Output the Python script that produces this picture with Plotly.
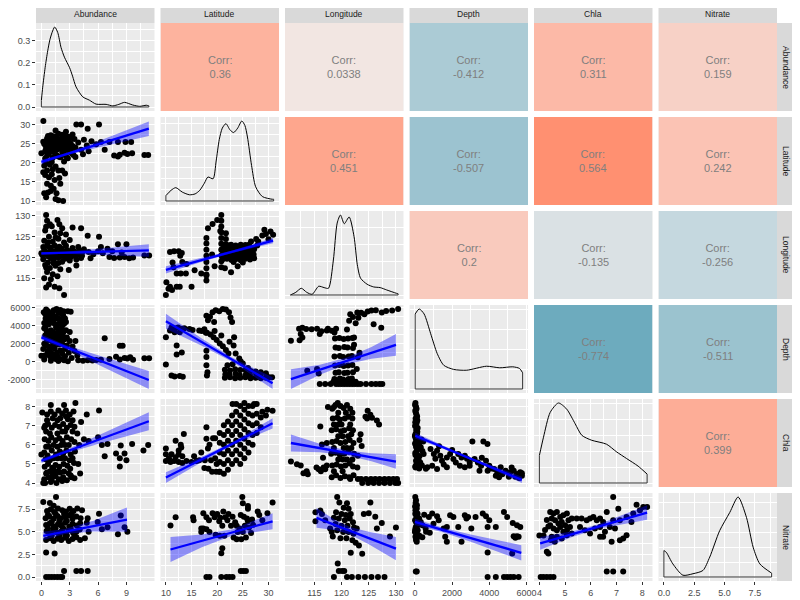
import math
import plotly.graph_objects as go
from plotly.subplots import make_subplots
from plotly.colors import sample_colorscale

variables = ["Abundance", "Latitude", "Longitude", "Depth", "Chla", "Nitrate"]

# axis breaks per variable
x_ticks = [[0, 3, 6, 9], [10, 15, 20, 25, 30], [115, 120, 125, 130],
           [0, 2000, 4000, 6000], [4, 5, 6, 7, 8], [0, 2.5, 5, 7.5]]
x_labels = [["0", "3", "6", "9"], ["10", "15", "20", "25", "30"], ["115", "120", "125", "130"],
            ["0", "2000", "4000", "6000"], ["4", "5", "6", "7", "8"], ["0.0", "2.5", "5.0", "7.5"]]
y_ticks = [[0, 0.1, 0.2, 0.3], [10, 15, 20, 25, 30], [115, 120, 125, 130],
           [-2000, 0, 2000, 4000, 6000], [4, 5, 6, 7, 8], [0, 2.5, 5, 7.5]]
y_labels = [["0.0", "0.1", "0.2", "0.3"], ["10", "15", "20", "25", "30"], ["115", "120", "125", "130"],
            ["-2000", "0", "2000", "4000", "6000"], ["4", "5", "6", "7", "8"], ["0.0", "2.5", "5.0", "7.5"]]

# upper triangle correlations, row by row
corr_values = [0.36, 0.0338, -0.412, 0.311, 0.159,
               0.451, -0.507, 0.564, 0.242,
               0.2, -0.135, -0.256,
               -0.774, -0.511,
               0.399]

# diagonal densities
abund_dens_x = [0.0, 0.14, 0.4, 0.67, 0.9, 1.13, 1.41, 1.73, 2.08, 2.44, 2.97, 3.3, 3.67, 4.38, 5.08, 5.79, 6.85, 7.56, 8.2, 8.8, 9.67, 10.4, 11.1, 11.37]
abund_dens_y = [0.03, 0.09, 0.18, 0.255, 0.305, 0.338, 0.363, 0.338, 0.27, 0.226, 0.18, 0.14, 0.091, 0.046, 0.031, 0.013, 0.012, 0.005, 0.012, 0.021, 0.009, 0.003, 0.008, 0.005]
lat_dens_x = [10.0, 11.0, 11.93, 13.2, 14.6, 15.7, 16.6, 17.5, 18.2, 19.2, 19.8, 20.4, 21.0, 21.7, 22.5, 23.2, 24.0, 24.8, 25.4, 25.9, 26.7, 27.5, 28.8, 30.7, 31.0]
lat_dens_y = [0.006, 0.012, 0.015, 0.01, 0.007, 0.008, 0.012, 0.02, 0.027, 0.025, 0.045, 0.069, 0.082, 0.087, 0.08, 0.077, 0.082, 0.09, 0.085, 0.072, 0.04, 0.016, 0.005, 0.002, 0.002]
lon_dens_x = [110.6, 111.6, 112.6, 113.6, 114.6, 115.8, 116.8, 117.6, 118.5, 119.2, 119.8, 120.5, 121.4, 122.3, 122.9, 123.5, 124.7, 125.9, 127.1, 128.3, 130.1, 130.4]
lon_dens_y = [0.0, 0.004, 0.010, 0.004, 0.001, 0.013, 0.011, 0.010, 0.052, 0.107, 0.119, 0.106, 0.116, 0.087, 0.045, 0.025, 0.016, 0.012, 0.011, 0.0075, 0.0025, 0.0018]
depth_dens_x = [16, 230, 495, 850, 1200, 1550, 2080, 2790, 3850, 4560, 5260, 5620, 5790]
depth_dens_y = [3.79e-4, 4.04e-4, 3.79e-4, 2.79e-4, 1.79e-4, 1.2e-4, 0.99e-4, 0.95e-4, 1.15e-4, 1.07e-4, 1.12e-4, 1.04e-4, 0.82e-4]
chla_dens_x = [4.0, 4.16, 4.42, 4.74, 5.06, 5.39, 5.65, 6.03, 6.61, 7.0, 7.39, 7.84, 8.19]
chla_dens_y = [0.173, 0.288, 0.444, 0.503, 0.465, 0.373, 0.300, 0.269, 0.244, 0.196, 0.154, 0.106, 0.056]
nit_dens_x = [0.0, 0.2, 0.74, 1.57, 2.4, 3.22, 3.78, 4.6, 5.43, 6.12, 6.81, 7.36, 7.91, 8.88]
nit_dens_y = [0.089, 0.083, 0.044, 0.006, 0.011, 0.022, 0.067, 0.156, 0.217, 0.269, 0.2, 0.1, 0.044, 0.013]

# lower panels: points (x, y) and lm fit (x, fit, half band)
abund_lat = [
    (0.21, 30.9), (3.7, 30.0), (4.2, 30.0), (6.1, 30.0), (4.9, 28.9), (3.3, 27.4), (1.5, 28.4), (2.6, 28.1),
    (0.4, 21.1), (0.8, 22.4), (1.2, 21.3), (1.6, 22.0), (2.0, 21.4), (2.4, 22.3), (2.8, 21.2), (3.2, 22.5),
    (0.5, 23.7), (0.9, 23.2), (1.3, 24.0), (1.7, 23.5), (2.1, 23.9), (2.5, 23.3), (2.9, 23.8), (3.3, 23.6),
    (0.3, 24.9), (0.8, 25.3), (1.1, 24.7), (1.6, 25.1), (1.9, 24.6), (2.3, 25.2), (2.7, 24.8), (3.1, 25.0),
    (0.6, 26.3), (1.0, 26.0), (1.4, 26.6), (1.8, 26.1), (2.2, 26.5), (2.6, 26.0), (3.0, 26.4), (3.5, 26.2),
    (1.0, 27.2), (2.2, 27.3), (1.8, 27.6), (0.7, 27.0),
    (0.6, 21.8), (1.0, 22.9), (1.4, 22.6), (1.8, 21.6), (2.2, 22.8), (2.6, 21.7), (3.0, 22.9), (3.4, 22.0),
    (0.5, 24.3), (0.9, 24.1), (1.3, 25.6), (1.7, 24.4), (2.1, 25.5), (2.5, 24.2), (2.9, 25.6), (3.3, 24.4),
    (0.7, 25.9), (1.2, 26.9), (1.6, 26.9), (2.0, 25.9), (2.4, 26.9), (2.8, 26.8), (3.2, 26.9), (0.4, 23.0),
    (3.6, 24.0), (3.9, 25.3), (4.2, 23.4), (4.5, 26.0), (4.8, 24.5), (5.3, 25.6), (5.0, 23.0), (3.6, 21.5),
    (0.0, 22.5), (0.2, 25.5), (5.8, 24.8), (4.4, 22.2),
    (0.3, 19.2), (0.6, 18.0), (0.9, 19.5), (1.2, 18.3), (1.5, 19.0), (1.8, 18.0), (0.4, 16.8), (0.8, 16.2),
    (1.1, 17.0), (1.4, 15.5), (0.6, 14.5), (1.0, 14.0), (1.3, 13.2), (0.3, 12.0), (0.7, 12.2), (1.0, 12.6),
    (1.6, 12.0), (0.5, 11.0), (1.5, 10.5), (1.8, 10.2), (2.3, 10.0), (2.0, 14.5), (2.2, 18.0), (2.5, 17.2),
    (1.9, 16.0), (0.2, 17.5), (1.1, 20.2), (2.4, 20.3), (0.5, 20.0),
    (6.3, 25.4), (7.2, 25.4), (8.1, 25.4), (8.9, 25.4), (9.5, 25.4), (6.7, 23.4), (7.7, 21.9), (8.3, 22.1),
    (8.8, 22.6), (9.1, 22.3), (9.6, 22.5), (8.1, 21.6), (10.9, 22.0), (11.3, 22.0),
]
abund_lat_fit = [(0.0, 20.2, 0.6), (2.5, 22.1, 0.3), (6.0, 24.8, 0.8), (11.37, 28.9, 1.9)]

abund_lon = [
    (0.2, 119.6), (0.5, 121.0), (0.9, 122.4), (1.3, 119.4), (1.7, 121.2), (2.1, 122.2), (2.5, 119.7), (2.9, 120.9),
    (3.3, 122.3), (3.7, 119.5), (4.1, 121.1), (4.5, 122.0), (0.3, 121.8), (0.7, 120.3), (1.1, 121.5), (1.5, 120.2),
    (1.9, 122.6), (2.3, 120.5), (2.7, 121.8), (3.1, 120.1), (3.5, 121.4), (3.9, 122.5), (4.3, 120.4), (0.1, 120.6),
    (0.6, 122.8), (1.0, 119.9), (1.4, 122.9), (1.8, 120.0), (2.2, 121.0), (2.6, 122.8), (3.0, 119.3), (3.4, 121.1),
    (3.8, 120.7), (4.2, 119.9), (5.0, 121.3), (5.5, 120.8), (6.0, 121.5), (5.2, 119.8), (0.0, 121.0), (6.5, 121.0),
    (0.4, 120.9), (0.8, 121.3), (1.2, 120.8), (1.6, 121.7), (2.0, 120.3), (2.4, 121.4), (2.8, 120.4), (3.2, 121.7),
    (3.6, 120.3), (4.0, 121.6), (4.4, 121.5), (0.2, 122.5), (1.0, 122.1), (1.8, 122.0), (2.6, 119.9),
    (0.5, 130.2), (0.6, 128.8), (1.7, 129.0), (1.9, 128.0), (1.1, 127.5), (0.4, 126.5), (1.4, 126.0), (2.2, 127.0),
    (0.8, 125.0), (1.8, 124.5), (2.6, 125.5), (0.3, 124.0), (1.2, 123.8), (2.4, 123.6), (3.3, 127.2), (4.2, 127.0),
    (4.9, 125.2), (6.1, 125.0), (3.0, 124.2), (0.9, 128.0), (0.7, 123.6), (1.5, 124.8), (0.5, 127.4), (2.0, 125.8),
    (0.4, 118.2), (0.9, 117.5), (1.5, 118.0), (0.6, 116.5), (1.2, 116.0), (2.0, 117.2), (0.3, 115.0), (1.0, 114.8),
    (1.7, 115.5), (0.8, 113.5), (1.4, 113.0), (1.9, 112.6), (2.4, 111.0), (3.7, 118.1), (2.9, 117.0), (2.2, 119.0),
    (0.5, 112.8), (0.7, 118.8), (1.3, 118.6), (1.8, 118.7), (0.5, 117.6),
    (7.0, 122.1), (8.1, 123.2), (9.0, 123.2), (6.3, 122.5), (7.2, 120.1), (7.7, 119.9), (8.3, 120.0), (8.8, 120.1),
    (9.3, 119.8), (9.7, 120.0), (10.9, 120.5), (11.4, 120.5), (7.5, 121.5), (8.5, 121.2),
]
abund_lon_fit = [(0.0, 121.0, 0.35), (2.5, 121.15, 0.25), (6.0, 121.37, 0.7), (11.37, 121.7, 1.5)]

abund_depth = [
    (0.3, 250), (0.7, 1150), (1.1, 2300), (1.5, 3150), (1.9, 4250), (2.3, 5150),
    (0.4, 5300), (0.8, 4150), (1.2, 3300), (1.6, 2150), (2.0, 1250), (2.4, 150),
    (0.5, 1800), (0.9, 2700), (1.3, 4700), (1.7, 600), (2.1, 3600), (2.5, 4800),
    (0.3, 3700), (0.7, 5600), (1.1, 900), (1.5, 5000), (1.9, 2600), (2.3, 3200),
    (0.6, 4500), (1.0, 3500), (1.4, 1500), (1.8, 5400), (2.2, 2000), (0.4, 2900),
    (0.35, 700), (0.75, 1700), (1.15, 2800), (1.55, 3800), (1.95, 4700), (2.35, 5600), (0.45, 4800), (0.85, 3200),
    (1.25, 1900), (1.65, 1000), (2.05, 300), (2.45, 2500), (0.6, 2300), (1.0, 5200), (1.4, 4200), (1.8, 3000),
    (2.2, 4000), (2.6, 3500), (0.3, 4300), (1.6, 5850), (2.7, 1800), (3.0, 3300), (0.9, 600),
    (0.25, 5500), (0.55, 3400), (0.65, 900), (0.95, 1400), (1.05, 4400), (1.35, 2600), (1.45, 800), (1.75, 4800),
    (1.85, 1900), (2.15, 5300), (2.25, 2800), (2.4, 4200), (0.45, 3900), (1.2, 5500), (1.9, 3400), (0.8, 5000),
    (1.5, 300), (2.0, 2200), (2.5, 1400), (0.3, 2000), (1.7, 2500), (2.1, 4500),
    (0.5, 5800), (1.3, 5700), (2.0, 5750), (2.8, 5600), (3.1, 5550), (0.9, 4700), (1.7, 3700), (2.6, 4400),
    (2.7, 2700), (3.0, 2300), (3.3, 1700), (3.5, 1200), (3.8, 700), (2.9, 1000), (3.2, 400), (3.9, 150),
    (4.4, 100), (4.9, 150), (5.4, 120), (5.8, 200), (3.6, 2300), (0.0, 670), (2.5, 600), (1.0, 100),
    (1.8, 80), (2.8, 50), (0.2, 1400), (1.2, 400), (2.2, 900),
    (6.7, 2600), (8.3, 1780), (8.6, 1780), (6.3, 220), (7.2, 300), (7.9, 550), (8.3, 250), (8.8, 400),
    (9.1, 350), (9.4, 500), (9.7, 220), (10.9, 370), (11.4, 370),
]
abund_depth_fit = [(0.0, 2700, 320), (2.5, 1660, 230), (6.0, 200, 520), (11.37, -2030, 1000)]

abund_chla = [
    (0.3, 4.2), (0.75, 4.3), (1.1, 4.15), (1.5, 4.35), (1.85, 4.2), (2.3, 4.3), (2.7, 4.15), (3.1, 4.4), (3.5, 4.25),
    (0.35, 4.85), (0.7, 5.0), (1.15, 4.8), (1.5, 4.95), (1.9, 4.85), (2.35, 5.0), (2.75, 4.9), (3.05, 4.75), (3.45, 5.05),
    (0.3, 5.6), (0.65, 5.45), (1.1, 5.7), (1.55, 5.5), (1.95, 5.65), (2.3, 5.55), (2.65, 5.7), (3.1, 5.5), (3.55, 5.65),
    (0.35, 6.3), (0.75, 6.2), (1.05, 6.4), (1.5, 6.25), (1.9, 6.35), (2.25, 6.2), (2.7, 6.4), (3.15, 6.3), (3.5, 6.15),
    (0.4, 7.0), (0.7, 7.1), (1.1, 6.9), (1.45, 7.05), (1.9, 6.95), (2.3, 7.1), (2.7, 6.9), (3.1, 7.05), (3.5, 6.95),
    (0.6, 7.6), (1.0, 7.75), (1.4, 7.6), (1.8, 7.8), (2.2, 7.65), (2.6, 7.8), (3.0, 7.6), (3.4, 7.75),
    (0.5, 4.5), (0.9, 4.6), (1.3, 5.3), (1.7, 5.9), (2.1, 6.0), (2.5, 5.3), (2.9, 6.0), (3.3, 6.7),
    (0.8, 5.9), (1.2, 7.4), (2.0, 7.4), (2.8, 7.35), (3.3, 5.3), (2.4, 4.6), (1.6, 4.0),
    (0.4, 4.0), (0.5, 5.9), (0.9, 6.6), (1.3, 6.0), (1.7, 7.3), (2.1, 5.3), (2.5, 6.0), (2.9, 4.5),
    (3.3, 7.3), (1.2, 4.4), (0.3, 6.9), (2.6, 7.5), (3.0, 5.2), (1.8, 4.6), (2.2, 6.7), (0.6, 7.3),
    (0.2, 4.0), (0.6, 4.55), (1.0, 4.05), (1.4, 4.6), (0.45, 5.25), (0.9, 5.2), (1.3, 4.7), (1.7, 5.3),
    (4.0, 6.0), (4.2, 7.2), (3.9, 5.0), (4.5, 6.3), (4.8, 7.6), (4.1, 4.5), (0.0, 5.5), (0.1, 7.7),
    (1.0, 8.1), (2.4, 8.1), (3.6, 8.2), (3.2, 4.3), (2.2, 4.1), (2.0, 4.55), (0.5, 6.7), (2.5, 6.7), (1.7, 6.6), (3.8, 6.6),
    (6.1, 7.8), (6.4, 6.0), (6.7, 5.4), (7.0, 6.05), (6.0, 6.4), (7.9, 5.55), (8.3, 5.3), (8.3, 4.87),
    (8.4, 5.97), (8.8, 5.55), (9.0, 5.2), (9.6, 6.05), (10.8, 5.7), (11.3, 6.0), (5.0, 6.2),
]
abund_chla_fit = [(0.0, 5.17, 0.12), (2.5, 5.63, 0.09), (6.0, 6.27, 0.22), (11.37, 7.24, 0.47)]

abund_nit = [
    (0.5, 4.1), (0.9, 4.3), (1.3, 4.0), (1.7, 4.25), (2.1, 4.1), (2.5, 4.35), (2.9, 4.0), (3.3, 4.2), (3.7, 4.4), (4.1, 4.1),
    (0.55, 5.1), (0.95, 4.85), (1.25, 5.2), (1.7, 4.9), (2.15, 5.1), (2.5, 4.8), (2.9, 5.2), (3.35, 4.9), (3.7, 5.0), (4.05, 5.25),
    (0.5, 5.75), (0.9, 5.95), (1.3, 5.6), (1.75, 5.85), (2.1, 5.7), (2.5, 6.0), (2.95, 5.6), (3.3, 5.9), (3.75, 5.7), (4.1, 5.95),
    (0.45, 6.5), (0.85, 6.7), (1.3, 6.45), (1.7, 6.75), (2.05, 6.5), (2.55, 6.6), (2.9, 6.8), (3.3, 6.45), (3.7, 6.7), (4.15, 6.5),
    (0.6, 7.3), (1.0, 7.5), (1.35, 7.2), (1.75, 7.6), (2.2, 7.4), (2.6, 7.25), (3.0, 7.55), (3.4, 7.3), (3.8, 7.6), (4.3, 7.4),
    (0.7, 5.4), (1.1, 6.1), (1.5, 5.4), (1.9, 6.2), (2.3, 5.4), (2.7, 6.2), (3.1, 5.4), (0.7, 6.9),
    (1.5, 7.0), (2.4, 7.0), (3.2, 7.0), (1.1, 4.6), (1.9, 4.6), (2.7, 4.6), (3.5, 4.6),
    (0.2, 8.3), (1.55, 8.86), (0.9, 8.2), (1.3, 7.9), (0.5, 2.7), (1.4, 2.6), (4.6, 4.3), (5.0, 5.0), (4.9, 6.5), (4.8, 6.0),
    (0.5, 0.0), (0.8, 0.0), (1.1, 0.0), (1.4, 0.0), (1.7, 0.0), (2.0, 0.0), (2.2, 0.0),
    (2.4, 0.66), (3.7, 0.66), (4.2, 0.66), (4.9, 0.66),
    (6.1, 7.0), (5.96, 6.1), (6.4, 5.3), (7.0, 5.5), (8.1, 4.74), (8.4, 6.8), (8.8, 5.5), (9.1, 5.0),
]
abund_nit_fit = [(0.2, 4.56, 0.45), (2.5, 5.03, 0.28), (5.5, 5.64, 0.6), (9.06, 6.36, 1.35)]

lat_lon = [
    (10.0, 111.0), (10.1, 114.1), (10.8, 113.0), (11.2, 112.2), (12.1, 113.0), (12.7, 113.0), (15.0, 113.0), (10.5, 112.5),
    (10.8, 121.4), (11.6, 121.6), (12.5, 121.6), (13.1, 121.2), (12.8, 120.5), (11.3, 118.9), (13.2, 119.0),
    (11.5, 117.7), (12.1, 116.2), (12.9, 116.2), (13.9, 116.2), (15.6, 117.0), (16.9, 116.2), (17.9, 115.7), (14.0, 118.5),
    (17.9, 114.5), (17.9, 116.0), (17.9, 117.5), (17.9, 119.0), (17.9, 120.5), (17.9, 122.0), (17.9, 123.5), (17.9, 124.8),
    (18.2, 127.2), (19.1, 128.2), (20.0, 129.2), (20.6, 126.5),
    (20.8, 130.4), (20.8, 129.0), (20.8, 127.6), (20.8, 126.2), (20.8, 124.8), (20.8, 123.4), (20.8, 122.0), (20.8, 120.6),
    (20.8, 119.2), (20.8, 117.7), (21.7, 126.0), (21.7, 124.6), (21.7, 123.3),
    (21.0, 119.6), (21.9, 119.8), (22.8, 119.5), (23.7, 119.7), (24.6, 119.4), (25.5, 119.8), (26.4, 119.6), (27.2, 119.9),
    (21.1, 120.9), (22.0, 120.7), (22.7, 121.0), (23.6, 120.8), (24.7, 120.9), (25.4, 120.6), (26.3, 121.0), (27.1, 120.8),
    (20.9, 122.0), (21.8, 122.2), (22.9, 121.9), (23.8, 122.1), (24.5, 122.0), (25.6, 122.2), (26.5, 121.9), (27.2, 122.1),
    (21.2, 123.1), (22.1, 123.0), (22.7, 123.2), (23.6, 123.0), (24.6, 123.2), (25.5, 123.1), (26.2, 123.2), (23.2, 119.0),
    (21.5, 120.2), (22.4, 120.2), (23.3, 120.3), (24.2, 120.2), (25.1, 120.3), (26.0, 120.2), (26.8, 120.3),
    (21.5, 121.4), (22.4, 121.5), (23.3, 121.4), (24.2, 121.5), (25.1, 121.4), (26.0, 121.5), (26.8, 121.4),
    (21.5, 122.6), (22.4, 122.6), (23.3, 122.5), (24.2, 122.6), (25.1, 122.6), (26.0, 122.5),
    (22.7, 116.5), (21.5, 117.5), (24.0, 118.0), (25.0, 118.9), (19.5, 118.0), (19.0, 120.8),
    (26.6, 124.0), (27.6, 124.6), (28.8, 125.4), (29.5, 125.8), (30.4, 126.4), (30.9, 125.6), (29.2, 126.8), (28.0, 124.0),
    (30.0, 124.5), (27.8, 123.0),
]
lat_lon_fit = [(10.0, 117.1, 0.9), (17.0, 119.5, 0.45), (23.0, 121.5, 0.3), (30.9, 124.2, 0.65)]

lat_depth = [
    (10.0, 2700), (10.0, -330), (10.8, 3450), (11.1, 3800), (11.7, 3700), (12.4, 3800), (13.1, 3650), (13.6, 3700),
    (11.7, 3250), (12.7, 3250), (12.1, 1780), (12.1, 780), (13.1, 1000), (11.1, -1550), (11.7, -1650), (12.7, -1600), (13.3, -1700),
    (14.6, 3630), (15.2, 3500), (16.5, 3450), (17.5, 3600), (17.8, 3200),
    (17.9, 500), (17.9, -400), (18.1, -1200), (18.0, -1550), (17.9, 1200),
    (17.9, 5100), (18.2, 4600), (19.1, 5480), (19.7, 5700), (20.4, 5600), (21.1, 5850), (21.7, 5800), (22.3, 5500),
    (22.6, 4900), (22.9, 4400), (19.4, 4400), (18.6, 5000),
    (17.0, 3400), (18.0, 3200), (18.7, 3000), (19.3, 2700), (19.9, 2400), (20.5, 2000), (21.1, 1700), (21.7, 1300),
    (22.2, 900), (19.5, 3400), (20.8, 2900), (22.4, 2200),
    (23.3, 2700), (23.2, 1800), (23.6, 900), (24.3, 340), (25.0, -220), (24.6, 0),
    (21.5, -900), (22.5, -1000), (23.5, -850), (24.5, -950), (25.5, -900), (26.5, -1050), (27.5, -1100), (28.5, -1200), (29.5, -1300),
    (21.6, -1400), (22.4, -1450), (23.6, -1350), (24.4, -1500), (25.6, -1400), (26.4, -1500), (27.6, -1450), (28.4, -1550), (29.6, -1600),
    (21.5, -1800), (22.5, -1750), (23.5, -1850), (24.5, -1800), (25.5, -1750), (26.5, -1850), (27.5, -1800), (28.5, -1850), (29.5, -1800),
    (30.1, -1730), (30.7, -1730), (22.0, -400), (23.0, -300), (26.0, -700),
]
lat_depth_fit = [(10.0, 4480, 830), (17.0, 2170, 400), (23.0, 190, 250), (30.8, -2400, 650)]

lon_depth = [
    (110.7, 2340), (112.2, 3670), (112.8, 3800), (113.5, 3650), (114.5, 3630), (112.5, 3100), (112.8, 2700), (112.3, 2400),
    (113.7, -990), (115.5, -800), (115.8, -1290),
    (115.5, 3670), (116.3, 3400), (117.3, 3500), (118.2, 3450), (118.7, 3270), (116.0, 3100), (117.5, 3670), (119.0, 3670), (121.0, 3600),
    (118.8, 2600), (119.6, 2650), (120.4, 2550), (121.2, 2600), (122.0, 2650),
    (118.9, 1600), (119.5, 1550), (120.5, 1650), (121.1, 1600), (122.1, 1550),
    (118.7, 600), (119.7, 650), (120.3, 550), (121.3, 600), (121.9, 650),
    (118.8, -400), (119.6, -350), (120.4, -450), (121.2, -400), (122.0, -350),
    (118.9, -1200), (119.5, -1150), (120.5, -1250), (121.1, -1200), (122.1, -1150),
    (118.7, -1900), (119.7, -1850), (120.3, -1950), (121.3, -1900), (121.9, -1850),
    (116.0, -2450), (117.0, -2450), (118.0, -2450), (119.0, -2450), (119.5, -2450), (120.0, -2450), (120.5, -2450),
    (121.0, -2450), (121.5, -2450), (122.0, -2450), (122.5, -2450), (123.0, -2450), (123.5, -2450), (124.5, -2450),
    (125.5, -2450), (126.3, -2450), (127.0, -2450), (127.5, -2450),
    (118.5, -2200), (119.3, -2200), (120.1, -2200), (120.9, -2200), (121.7, -2200), (122.6, -2200),
    (122.3, 2700), (122.3, 1900), (123.3, 1000), (123.0, 500), (122.8, -800),
    (121.4, 4560), (121.6, 5300), (122.1, 5000), (122.9, 5500), (123.6, 5450), (124.2, 5300), (124.8, 5600),
    (125.5, 5700), (126.3, 5750), (127.4, 5500), (128.2, 5650), (129.3, 5700), (130.4, 5880), (125.9, 4190),
    (127.3, 3800), (123.1, 4900), (122.6, 4300),
]
lon_depth_fit = [(110.7, -1920, 1100), (116.0, -880, 550), (121.0, 110, 380), (125.5, 1000, 650), (130.0, 1890, 1200)]

lat_chla = [
    (10.0, 5.5), (10.6, 5.3), (11.1, 5.5), (11.9, 5.35), (12.5, 5.5), (13.2, 5.4), (10.0, 5.15), (10.9, 5.1),
    (11.6, 5.15), (12.5, 5.1), (13.2, 5.05), (14.0, 5.15), (15.0, 5.1), (16.0, 5.15), (10.0, 5.8), (11.9, 6.2),
    (12.5, 5.7), (12.9, 6.0), (13.5, 6.55), (13.0, 5.85),
    (16.9, 5.6), (17.9, 6.3), (18.5, 6.0), (18.2, 5.8), (17.9, 6.9), (19.2, 6.33), (19.6, 6.33),
    (17.5, 4.8), (18.3, 4.75), (19.0, 4.6), (19.8, 4.6), (20.4, 4.6), (18.8, 5.2), (19.6, 5.3), (19.9, 5.0),
    (17.6, 5.2), (15.5, 5.4), (16.5, 5.2),
    (20.5, 4.6), (20.5, 5.1), (20.5, 5.6), (20.5, 6.1), (20.5, 6.6),
    (21.3, 4.5), (21.3, 5.0), (21.3, 5.5), (21.3, 6.0), (21.3, 6.5), (21.3, 7.0),
    (22.1, 4.7), (22.1, 5.2), (22.1, 5.7), (22.1, 6.2), (22.1, 6.7), (22.1, 7.2),
    (22.9, 5.0), (22.9, 5.5), (22.9, 6.0), (22.9, 6.5), (22.9, 7.0), (22.9, 7.5),
    (23.7, 5.2), (23.7, 5.7), (23.7, 6.2), (23.7, 6.7), (23.7, 7.2), (23.7, 7.7), (23.7, 8.1),
    (24.5, 5.0), (24.5, 5.5), (24.5, 6.0), (24.5, 6.5), (24.5, 7.0), (24.5, 7.5), (24.5, 8.0),
    (25.3, 5.3), (25.3, 5.8), (25.3, 6.3), (25.3, 6.8), (25.3, 7.3), (25.3, 7.8), (25.3, 8.15),
    (26.1, 5.6), (26.1, 6.1), (26.1, 6.6), (26.1, 7.1), (26.1, 7.6), (26.1, 8.0),
    (26.9, 6.0), (26.9, 6.5), (26.9, 7.0), (26.9, 7.5), (26.9, 8.0),
    (27.7, 6.6), (27.7, 7.1), (27.7, 7.6), (27.7, 8.1), (28.5, 6.9), (28.5, 7.4),
    (28.8, 7.7), (29.8, 7.8), (30.8, 7.75), (29.5, 7.5), (23.0, 8.1), (27.2, 8.1),
]
lat_chla_fit = [(10.0, 4.3, 0.28), (17.0, 5.24, 0.14), (23.0, 6.05, 0.09), (30.8, 7.1, 0.26)]

lon_chla = [
    (110.7, 5.2), (111.8, 5.06), (112.5, 5.0), (113.0, 4.6), (113.6, 4.7), (113.8, 4.55), (115.4, 4.9), (115.8, 4.8),
    (116.2, 4.7), (116.7, 4.9), (117.0, 4.8), (117.3, 5.0), (116.4, 6.07), (117.3, 6.15), (116.1, 7.0), (116.6, 5.4),
    (117.5, 8.0), (118.3, 7.9), (118.9, 8.1), (119.3, 8.2),
    (118.2, 4.4), (119.0, 4.5), (119.8, 4.35), (120.6, 4.45), (121.4, 4.4), (122.2, 4.5),
    (118.3, 5.0), (119.1, 5.05), (119.9, 4.95), (120.7, 5.0), (121.5, 5.1), (122.1, 4.95),
    (118.1, 5.6), (118.9, 5.65), (119.7, 5.55), (120.5, 5.6), (121.3, 5.7), (122.3, 5.6),
    (118.3, 6.2), (119.1, 6.25), (119.8, 6.15), (120.7, 6.2), (121.5, 6.3), (122.2, 6.15),
    (118.2, 6.8), (119.0, 6.85), (119.9, 6.75), (120.5, 6.8), (121.4, 6.9), (122.1, 6.8),
    (118.4, 7.4), (119.2, 7.45), (119.7, 7.35), (120.6, 7.4), (121.3, 7.5), (122.0, 7.4),
    (118.6, 8.0), (119.8, 8.05), (120.4, 7.95), (121.0, 8.1), (121.6, 7.9),
    (118.6, 4.7), (119.4, 5.3), (120.2, 5.3), (121.0, 5.9), (121.8, 5.9), (119.4, 6.5), (120.2, 6.5), (121.8, 6.6),
    (118.6, 7.1), (119.4, 7.1), (121.6, 7.1), (119.4, 7.7), (122.0, 7.7), (118.6, 5.9), (122.0, 5.3),
    (120.2, 4.7), (121.0, 5.3), (120.4, 5.9), (121.2, 6.5), (120.0, 7.1), (120.8, 7.7), (121.6, 4.3),
    (123.0, 4.3), (123.6, 4.3), (124.5, 4.3), (125.4, 4.3), (126.2, 4.3), (127.0, 4.3), (127.9, 4.3), (128.7, 4.3), (129.5, 4.3), (130.2, 4.3),
    (123.8, 4.1), (124.9, 4.1), (125.9, 4.1), (126.9, 4.1), (127.9, 4.1), (128.9, 4.1), (129.9, 4.1), (130.4, 4.1),
    (124.8, 7.8), (125.3, 7.6), (125.6, 7.45), (124.7, 7.4), (126.5, 7.3), (126.9, 7.1), (124.4, 7.5),
    (123.5, 6.6), (123.3, 6.3), (123.7, 6.0), (123.0, 5.5), (122.9, 4.9),
]
lon_chla_fit = [(110.7, 6.15, 0.44), (116.0, 5.89, 0.22), (121.0, 5.64, 0.13), (125.5, 5.42, 0.2), (130.0, 5.2, 0.37)]

depth_chla = [
    (30, 8.2), (60, 8.0), (20, 7.8), (80, 7.6), (40, 7.4), (100, 7.2), (10, 7.0), (70, 6.8), (120, 6.6), (30, 6.4),
    (90, 6.2), (50, 6.0), (140, 5.8), (20, 5.6), (110, 5.4), (60, 5.2), (130, 5.0), (40, 4.85), (90, 7.9), (130, 7.3),
    (150, 6.9), (0, 6.5), (100, 5.7),
    (10, 8.1), (50, 7.7), (120, 7.5), (20, 7.2), (70, 7.1), (130, 6.7), (40, 6.6), (100, 6.4), (10, 6.1),
    (70, 5.9), (30, 5.5), (120, 5.2), (80, 5.0), (20, 4.9), (60, 6.3), (140, 6.1), (90, 5.5), (150, 5.3),
    (230, 6.1), (316, 5.9), (403, 5.7), (250, 5.45), (200, 5.25), (290, 5.1), (380, 4.95), (230, 4.8), (470, 5.55),
    (590, 4.78), (670, 4.86), (450, 6.2), (350, 6.3),
    (842, 5.81), (1017, 5.55), (1192, 5.72), (1368, 5.46), (1455, 5.2), (1718, 5.37), (1893, 5.55), (2069, 5.29),
    (2332, 5.55), (2507, 5.37), (2683, 5.46), (2946, 5.11), (3209, 5.29), (3384, 5.11), (3559, 4.94), (3822, 5.2),
    (3998, 4.94), (4261, 4.77), (4436, 4.6), (4611, 4.86), (4874, 4.68), (5138, 4.6), (5313, 4.68), (5488, 4.51),
    (5664, 4.6), (5752, 4.42),
    (930, 4.94), (1192, 4.77), (1718, 4.86), (2420, 4.94), (2683, 4.86), (2946, 4.94), (3472, 4.68), (3910, 4.68),
    (4349, 4.42), (4524, 4.34), (5050, 4.37), (5400, 4.37),
    (3090, 6.2), (3680, 6.2), (3900, 6.07),
    (1100, 5.3), (1550, 5.0), (2200, 5.1), (2800, 5.3), (3600, 5.35), (4100, 4.8), (4700, 4.5), (5600, 4.3),
    (5200, 4.85), (5750, 4.55), (2000, 5.75), (1300, 5.95),
]
depth_chla_fit = [(20, 6.5, 0.15), (1500, 5.91, 0.08), (3000, 5.31, 0.06), (5750, 4.2, 0.16)]

lat_nit = [
    (10.9, 5.74), (11.9, 6.65), (15.3, 6.65), (15.4, 6.3),
    (16.9, 5.4), (17.3, 5.4), (17.9, 5.3), (18.5, 5.0), (16.9, 5.0),
    (17.3, 7.1), (17.9, 6.65), (18.4, 6.3), (19.1, 7.1), (19.5, 6.65),
    (20.4, 6.2), (20.6, 6.6), (21.2, 7.3), (21.6, 6.65), (22.0, 6.3), (22.2, 7.0), (22.7, 5.7), (20.0, 7.0), (21.0, 5.7),
    (19.7, 4.7), (20.5, 4.6), (21.4, 4.6), (20.8, 2.65), (21.0, 3.2),
    (17.9, 0.0), (18.5, 0.0), (20.8, 0.0), (21.8, 0.0), (22.4, 0.0), (23.0, 0.0), (24.6, 0.66), (25.1, 0.66), (25.6, 0.66),
    (24.9, 8.9), (25.0, 8.2), (26.0, 7.9), (26.0, 7.6), (24.6, 6.9), (25.2, 6.7), (25.8, 6.5), (23.5, 6.1),
    (23.8, 5.7), (24.4, 5.4), (25.4, 5.7), (26.2, 5.5), (26.6, 4.9), (23.2, 4.4), (23.8, 4.2), (24.7, 4.2),
    (25.6, 4.4), (24.0, 5.0), (25.0, 5.0), (26.0, 6.2), (26.8, 6.4), (27.9, 7.3), (28.2, 6.9), (28.8, 6.3),
    (29.8, 7.1), (30.8, 8.3), (23.0, 6.7), (27.0, 5.8),
]
lat_nit_fit = [(10.9, 3.06, 1.38), (17.0, 4.02, 0.7), (23.0, 4.97, 0.35), (30.8, 6.2, 0.9)]

lon_nit = [
    (115.2, 7.2), (116.1, 7.4), (116.4, 7.0), (115.2, 6.2), (117.0, 6.3), (117.9, 5.4),
    (119.2, 8.9), (119.6, 8.3), (121.0, 8.2), (121.3, 7.6), (119.0, 7.2), (120.0, 7.0), (120.8, 6.9), (121.7, 7.0),
    (118.6, 6.6), (119.5, 6.5), (120.6, 6.3), (121.5, 6.5), (122.1, 6.1), (118.9, 5.9), (120.0, 5.7), (121.1, 5.7),
    (122.3, 5.5), (119.2, 5.2), (120.3, 5.0), (121.3, 5.0), (122.2, 4.8), (118.4, 4.5), (119.8, 4.3), (120.9, 4.3),
    (122.0, 4.1), (122.6, 3.8), (123.2, 3.5), (120.4, 7.7), (122.8, 5.4), (118.2, 5.0),
    (121.7, 2.7), (123.8, 2.6), (119.3, 1.5), (119.5, 0.66), (120.1, 0.66), (120.5, 0.66),
    (118.6, 0.0), (121.0, 0.0), (121.9, 0.0), (123.1, 0.0), (124.3, 0.0), (125.5, 0.0), (126.7, 0.0), (127.9, 0.0),
    (124.1, 7.0), (125.0, 7.1), (125.3, 8.3), (126.2, 6.7), (126.5, 5.4), (127.4, 6.0), (128.9, 4.5), (130.0, 5.5),
]
lon_nit_fit = [(115.4, 6.58, 1.1), (119.0, 5.74, 0.55), (121.5, 5.15, 0.4), (125.0, 4.34, 0.7), (130.0, 3.16, 1.3)]

depth_nit = [
    (20, 8.86), (60, 8.49), (110, 7.94), (30, 7.39), (140, 7.02), (80, 6.65), (10, 6.29), (120, 5.99), (50, 5.55),
    (150, 5.18), (70, 4.82), (30, 4.45), (100, 3.9), (50, 0.6), (100, 0.6), (130, 6.9), (0, 5.0), (90, 4.2),
    (40, 8.2), (100, 7.6), (20, 7.0), (120, 6.5), (60, 6.1), (140, 5.7), (20, 5.3), (90, 4.9), (130, 4.4),
    (60, 4.1), (10, 7.8),
    (228, 6.47), (316, 6.1), (403, 5.74), (579, 5.37), (754, 6.65), (930, 7.02), (1192, 6.73), (1280, 6.29),
    (1718, 5.55), (1893, 6.84), (2069, 6.65), (2332, 5.55), (2683, 6.84), (2770, 6.47), (2858, 6.65), (3033, 5.37),
    (3261, 6.65), (3647, 7.02), (3822, 6.73), (3998, 6.29), (3910, 5.55), (4349, 5.55), (4787, 7.2), (4962, 6.65),
    (5488, 5.74), (5664, 5.55),
    (1543, 5.37), (1630, 4.45), (1718, 3.9), (2507, 3.9), (230, 4.6), (400, 4.4), (600, 5.0), (800, 4.9), (1000, 5.9), (500, 6.9),
    (5310, 4.5), (5400, 4.35), (5488, 4.5), (5576, 4.45), (5260, 5.99),
    (3910, 2.7), (5230, 2.6),
    (3910, 0.0), (4349, 0.0), (4787, 0.0), (4962, 0.0), (5138, 0.0), (5313, 0.0), (5576, 0.0),
]
depth_nit_fit = [(0, 6.1, 0.35), (1500, 5.2, 0.25), (3000, 4.31, 0.4), (5720, 2.68, 0.85)]

chla_nit = [
    (4.0, 4.6), (4.16, 4.6), (4.29, 6.3), (4.35, 5.6), (4.22, 5.2), (4.35, 2.6), (4.29, 2.8),
    (4.05, 0.0), (4.16, 0.0), (4.29, 0.0), (4.42, 0.0), (4.55, 0.0),
    (4.42, 7.2), (4.55, 7.02), (4.68, 7.2), (4.81, 6.65), (4.93, 6.84), (5.07, 7.02), (4.48, 6.47), (4.61, 6.29),
    (4.74, 5.92), (4.87, 6.1), (5.0, 5.74), (5.13, 6.29), (5.26, 6.47), (4.42, 5.74), (4.55, 5.37), (4.68, 5.18),
    (4.81, 5.55), (4.93, 5.0), (5.07, 5.18), (5.19, 5.55), (4.48, 4.45), (4.68, 4.45), (4.87, 4.27), (5.07, 4.63),
    (5.26, 4.82), (4.6, 3.9), (4.45, 4.1),
    (5.45, 6.47), (5.64, 6.47), (5.84, 6.29), (5.97, 6.47), (6.1, 6.65), (6.23, 6.29), (6.36, 6.47), (6.48, 6.1),
    (5.58, 5.55), (5.77, 5.18), (5.97, 4.82), (6.16, 5.37), (6.36, 5.55), (6.55, 5.0), (6.74, 5.55), (6.94, 5.37),
    (6.36, 4.45), (6.48, 4.45), (6.81, 3.9), (7.13, 4.08), (7.26, 4.27), (7.39, 4.63), (6.62, 7.2), (6.87, 8.86),
    (7.07, 7.57), (7.39, 6.65), (7.58, 6.1), (7.78, 8.0), (7.91, 7.39), (8.04, 7.76), (8.19, 7.76), (7.65, 7.02),
    (7.13, 6.29), (6.87, 6.29),
    (6.62, 0.6), (6.87, 0.6), (7.26, 0.6),
]
chla_nit_fit = [(4.03, 3.72, 0.7), (5.3, 4.76, 0.3), (6.3, 5.58, 0.25), (8.19, 7.14, 0.8)]

densities = [(abund_dens_x, abund_dens_y), (lat_dens_x, lat_dens_y), (lon_dens_x, lon_dens_y),
             (depth_dens_x, depth_dens_y), (chla_dens_x, chla_dens_y), (nit_dens_x, nit_dens_y)]
lower = [
    (2, 1, abund_lat, abund_lat_fit), (3, 1, abund_lon, abund_lon_fit), (4, 1, abund_depth, abund_depth_fit),
    (5, 1, abund_chla, abund_chla_fit), (6, 1, abund_nit, abund_nit_fit),
    (3, 2, lat_lon, lat_lon_fit), (4, 2, lat_depth, lat_depth_fit), (5, 2, lat_chla, lat_chla_fit), (6, 2, lat_nit, lat_nit_fit),
    (4, 3, lon_depth, lon_depth_fit), (5, 3, lon_chla, lon_chla_fit), (6, 3, lon_nit, lon_nit_fit),
    (5, 4, depth_chla, depth_chla_fit), (6, 4, depth_nit, depth_nit_fit),
    (6, 5, chla_nit, chla_nit_fit),
]

corr_scale = [[0.0, "rgb(63,147,174)"], [0.113, "rgb(109,171,190)"], [0.25, "rgb(157,196,208)"],
              [0.375, "rgb(198,216,223)"], [0.5, "rgb(241,236,234)"], [0.625, "rgb(251,194,178)"],
              [0.75, "rgb(255,159,132)"], [0.8, "rgb(255,136,102)"], [1.0, "rgb(255,96,64)"]]

# the page puts the figure 8px in from the top-left corner
W, H = 792, 592
ML, MR, MT, MB = 28, 23, 15, 19
PW, PH = W - ML - MR, H - MT - MB
GAP = 6

fig = make_subplots(rows=6, cols=6, horizontal_spacing=GAP / PW, vertical_spacing=GAP / PH)


def suffix(r, c):
    n = (r - 1) * 6 + c
    return "" if n == 1 else str(n)


def padded(vals):
    lo, hi = min(vals), max(vals)
    pad = (hi - lo) * 0.05
    return [lo - pad, hi + pad]


def mids(ticks):
    step = ticks[1] - ticks[0]
    return [t - step / 2 for t in ticks] + [ticks[-1] + step / 2]


def nice_ticks(top):
    raw = top / 4
    mag = 10 ** math.floor(math.log10(raw))
    step = next(m * mag for m in (1, 2, 2.5, 5, 10) if raw <= m * mag)
    return [i * step for i in range(int(top / step) + 2)]


col_x = [list(d[0]) for d in densities]
yrange = {}

# diagonal densities
for i, (dx, dy) in enumerate(densities):
    fig.add_trace(go.Scatter(x=dx, y=dy, mode="lines", showlegend=False, hoverinfo="skip",
                             line=dict(color="black", width=1, shape="spline", smoothing=0.7)),
                  row=i + 1, col=i + 1)
    fig.add_trace(go.Scatter(x=[dx[0], dx[0], dx[-1], dx[-1]], y=[dy[0], 0, 0, dy[-1]], mode="lines",
                             showlegend=False, hoverinfo="skip", line=dict(color="#333333", width=1)),
                  row=i + 1, col=i + 1)
    yrange[(i + 1, i + 1)] = padded([0] + dy)

# scatter + lm smooth
for r, c, pts, fit in lower:
    px = [p[0] for p in pts]
    py = [p[1] for p in pts]
    fx = [f[0] for f in fit]
    hi = [f[1] + f[2] for f in fit]
    lo = [f[1] - f[2] for f in fit]
    fig.add_trace(go.Scatter(x=px, y=py, mode="markers", showlegend=False, hoverinfo="skip",
                             marker=dict(color="black", size=6, line=dict(width=0))), row=r, col=c)
    fig.add_trace(go.Scatter(x=fx + fx[::-1], y=hi + lo[::-1], mode="lines", fill="toself",
                             fillcolor="rgba(0,0,255,0.4)", line=dict(width=0), showlegend=False,
                             hoverinfo="skip"), row=r, col=c)
    fig.add_trace(go.Scatter(x=[fx[0], fx[-1]], y=[fit[0][1], fit[-1][1]], mode="lines", showlegend=False,
                             hoverinfo="skip", line=dict(color="#0000FF", width=2.3)), row=r, col=c)
    col_x[c - 1] += px + fx
    yrange[(r, c)] = padded(py + hi + lo)

xrange = [padded(v) for v in col_x]

tick_font = dict(family="Liberation Sans, Arial, sans-serif", size=9, color="#4D4D4D")
shapes = []
annotations = []
k = 0
for r in range(1, 7):
    for c in range(1, 7):
        s = suffix(r, c)
        xa = fig.layout["xaxis" + s]
        ya = fig.layout["yaxis" + s]
        common = dict(zeroline=False, showline=False, fixedrange=True, tickmode="array",
                      ticklen=3, tickwidth=1, tickcolor="#333333", tickfont=tick_font,
                      gridcolor="white", gridwidth=1.1)
        if r < c:
            # empty trace so the subplot exists, then the correlation tile
            fig.add_trace(go.Scatter(x=[0.5], y=[0.5], mode="markers", marker=dict(opacity=0),
                                     showlegend=False, hoverinfo="skip"), row=r, col=c)
            xa.update(range=[0, 1], showgrid=False, showticklabels=False, zeroline=False, fixedrange=True)
            ya.update(range=[0, 1], showgrid=False, showticklabels=False, zeroline=False, fixedrange=True)
            v = corr_values[k]
            k += 1
            color = sample_colorscale(corr_scale, [(v + 1) / 2])[0]
            shapes.append(dict(type="rect", xref="x%s" % s, yref="y%s" % s, x0=0, x1=1, y0=0, y1=1,
                               fillcolor=color, line=dict(width=0), layer="below"))
            annotations.append(dict(xref="x%s" % s, yref="y%s" % s, x=0.5, y=0.5,
                                    text="Corr:<br>%s" % format(v, ".3g"), showarrow=False,
                                    font=dict(family="Liberation Sans, Arial, sans-serif", size=11, color="#7F7F7F")))
            continue
        xa.update(range=xrange[c - 1], tickvals=x_ticks[c - 1], ticktext=x_labels[c - 1],
                  showticklabels=(r == 6), ticks="outside" if r == 6 else "", showgrid=True,
                  minor=dict(tickmode="array", tickvals=mids(x_ticks[c - 1]), showgrid=True,
                             gridcolor="white", gridwidth=0.5),
                  **common)
        if r == c and r > 1:
            yt = nice_ticks(yrange[(r, c)][1])
            yl = [""] * len(yt)
        else:
            yt, yl = y_ticks[r - 1], y_labels[r - 1]
        ya.update(range=yrange[(r, c)], tickvals=yt, ticktext=yl,
                  showticklabels=(c == 1), ticks="outside" if c == 1 else "", showgrid=True,
                  minor=dict(tickmode="array", tickvals=mids(yt), showgrid=True,
                             gridcolor="white", gridwidth=0.5),
                  **common)

# facet strips
strip_font = dict(family="Liberation Sans, Arial, sans-serif", size=8.5, color="#1A1A1A")
for i, name in enumerate(variables):
    dom = fig.layout["xaxis" + suffix(1, i + 1)].domain
    shapes.append(dict(type="rect", xref="paper", yref="paper", x0=dom[0], x1=dom[1],
                       y0=1, y1=1 + 18 / PH, fillcolor="#D9D9D9", line=dict(width=0)))
    annotations.append(dict(xref="paper", yref="paper", x=(dom[0] + dom[1]) / 2, y=1 + 9 / PH,
                            text=name, showarrow=False, font=strip_font, xanchor="center", yanchor="middle"))
    ydom = fig.layout["yaxis" + suffix(i + 1, 6)].domain
    shapes.append(dict(type="rect", xref="paper", yref="paper", x0=1, x1=1 + 18 / PW,
                       y0=ydom[0], y1=ydom[1], fillcolor="#D9D9D9", line=dict(width=0)))
    annotations.append(dict(xref="paper", yref="paper", x=1 + 9 / PW, y=(ydom[0] + ydom[1]) / 2,
                            text=name, showarrow=False, font=strip_font, textangle=90,
                            xanchor="center", yanchor="middle"))

fig.update_layout(
    template="none",
    width=W, height=H,
    margin=dict(l=ML, r=MR, t=MT, b=MB),
    plot_bgcolor="#EBEBEB",
    paper_bgcolor="white",
    showlegend=False,
    shapes=shapes,
    annotations=annotations,
    font=dict(family="Liberation Sans, Arial, sans-serif"),
)

fig.write_html("out.html")
